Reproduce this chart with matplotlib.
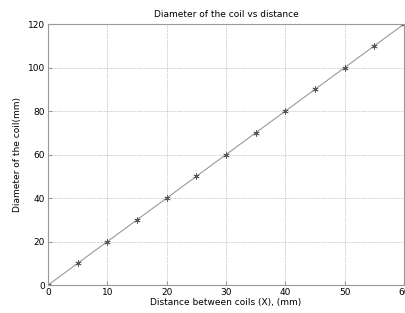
import numpy as np
import matplotlib
matplotlib.use("Agg")
import matplotlib.pyplot as plt

# distance between coils (mm) vs coil diameter (mm)
distance = [0, 5, 10, 15, 20, 25, 30, 35, 40, 45, 50, 55, 60]
diameter = [0, 10, 20, 30, 40, 50, 60, 70, 80, 90, 100, 110, 120]

xticks = [0, 10, 20, 30, 40, 50, 60]
yticks = [0, 20, 40, 60, 80, 100, 120]

plt.rcParams['font.family'] = ['DejaVu Sans']
plt.rcParams['font.size'] = 6.5

fig = plt.figure(figsize=(4.06, 3.13), dpi=100)
ax = fig.add_axes([0.118, 0.089, 0.877, 0.834])

ax.plot(distance, diameter, color='#9a9a9a', lw=0.8, marker=(6, 2, 0),
        markersize=4.5, markeredgecolor='#555555', markeredgewidth=0.5)

ax.set_xlim(0, 60)
ax.set_ylim(0, 120)
ax.set_xticks(xticks)
ax.set_yticks(yticks)
ax.grid(True, ls=(0, (1, 1.5)), color='#999999', lw=0.5)
for s in ax.spines.values():
    s.set_color('#999999')
    s.set_linewidth(0.8)
ax.tick_params(direction='in', length=3, color='#999999', labelsize=6.5, pad=2)

ax.set_title("Diameter of the coil vs distance", fontsize=6.5, pad=5)
ax.set_xlabel("Distance between coils (X), (mm)", fontsize=6.5, labelpad=1)
ax.set_ylabel("Diameter of the coil(mm)", fontsize=6.5, labelpad=4)

fig.savefig("out.png", dpi=100)
